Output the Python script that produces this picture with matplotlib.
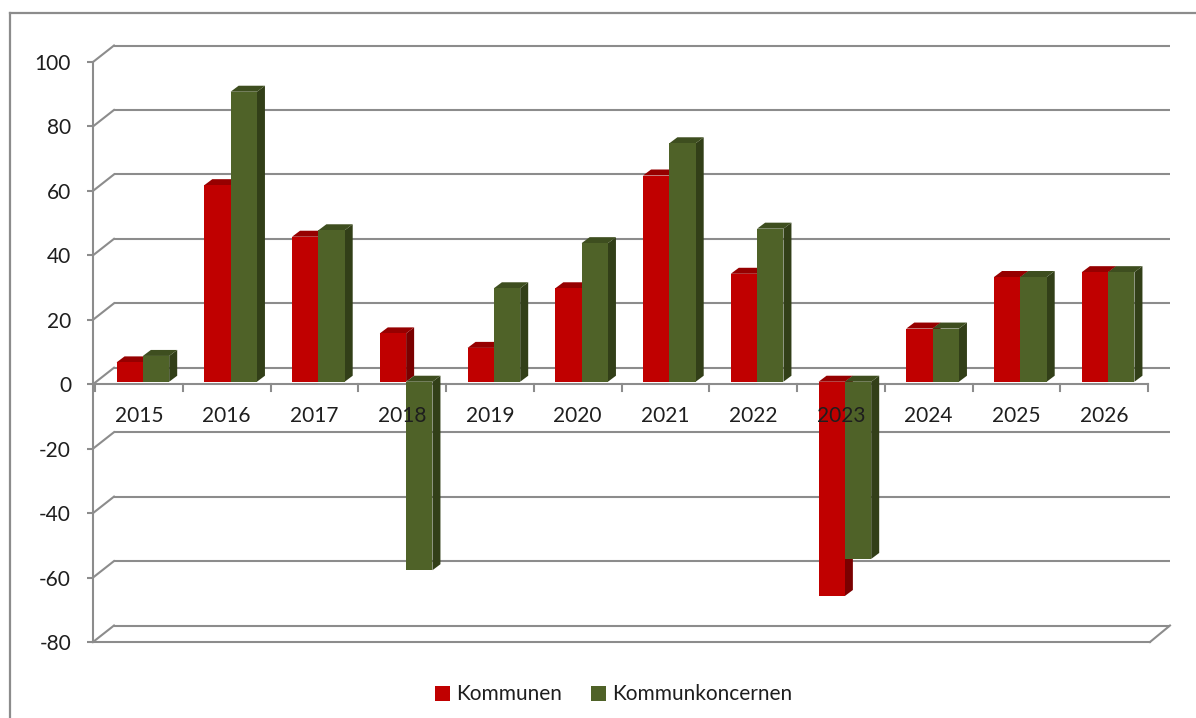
import matplotlib
matplotlib.use('Agg')
import matplotlib.pyplot as plt
from matplotlib.patches import Polygon, Patch
from matplotlib.lines import Line2D
import matplotlib.transforms as mtransforms

plt.rcParams['font.family'] = ['Lato', 'DejaVu Sans']

# ---- data ----
years = ['2015', '2016', '2017', '2018', '2019', '2020',
         '2021', '2022', '2023', '2024', '2025', '2026']
kommunen = [6, 61, 45, 15, 10.5, 29, 64, 33.5, -66.5, 16.5, 32.5, 34]
kommunkoncernen = [8, 90, 47, -58.5, 29, 43, 74, 47.5, -55, 16.5, 32.5, 34]
series_names = ['Kommunen', 'Kommunkoncernen']
yticks = [-80, -60, -40, -20, 0, 20, 40, 60, 80, 100]

# ---- style ----
W, H = 1196, 718
GRID = '#8c8c8c'
TXT = '#1e1e1e'
front_cols = ['#c00000', '#4f6228']
top_cols = ['#960000', '#3e4e1f']
side_cols = ['#7a0000', '#323f18']

fig = plt.figure(figsize=(W / 100, H / 100), dpi=100)
ax = fig.add_axes([95 / W, (H - 642) / H, (1148 - 95) / W, (642 - 62) / H])
ax.set_xlim(-0.5, 11.5)
ax.set_ylim(-80, 100)
ax.patch.set_visible(False)

n = len(years)
PX_X = n / 1053.0          # data units per pixel (x)
PX_Y = 180 / 580.0         # data units per pixel (y)

back = mtransforms.offset_copy(ax.transData, fig=fig, x=21, y=16.5, units='dots')
front_bar = mtransforms.offset_copy(ax.transData, fig=fig, x=4, y=2.5, units='dots')

# back wall gridlines
for v in yticks:
    ax.plot([-0.5 - 2 * PX_X, n - 0.5 + 1 * PX_X], [v, v], color=GRID, lw=1.5, transform=back,
            zorder=1, solid_capstyle='butt', clip_on=False)
    # side wall diagonals
    ax.plot([-0.5 - 2 * PX_X, -0.5 + 19 * PX_X], [v, v + 16.5 * PX_Y],
            color=GRID, lw=1.5, zorder=1, clip_on=False)
# floor front edge and right diagonal
ax.plot([-0.5 - 2 * PX_X, n - 0.5 + 2 * PX_X], [-80, -80], color=GRID, lw=1.5, zorder=1,
        clip_on=False)
ax.plot([n - 0.5 + 2 * PX_X, n - 0.5 + 22 * PX_X], [-80, -80 + 16.5 * PX_Y],
        color=GRID, lw=1.5, zorder=1, clip_on=False)

# category axis at 0 with boundary ticks
ax.plot([-0.5, n - 0.5], [0, 0], color=GRID, lw=1.5, zorder=2, clip_on=False)
for b in range(n + 1):
    ax.plot([b - 0.5, b - 0.5], [0, -7 * PX_Y], color=GRID, lw=1.5, zorder=2, clip_on=False)

# bars
width = 0.30
ddx, ddy = 8 * PX_X, 6 * PX_Y
z = 3
for i in range(n):
    for s, vals in enumerate([kommunen, kommunkoncernen]):
        v = vals[i]
        x0 = i - width if s == 0 else i
        x1 = x0 + width
        top = max(v, 0)
        bot = min(v, 0)
        side = Polygon([(x1, bot), (x1 + ddx, bot + ddy), (x1 + ddx, top + ddy), (x1, top)],
                       closed=True, facecolor=side_cols[s], edgecolor='none',
                       transform=front_bar, zorder=z, clip_on=False)
        ax.add_patch(side)
        topf = Polygon([(x0, top), (x1, top), (x1 + ddx, top + ddy), (x0 + ddx, top + ddy)],
                       closed=True, facecolor=top_cols[s], edgecolor='none',
                       transform=front_bar, zorder=z, clip_on=False)
        ax.add_patch(topf)
        ax.bar(x0, v, width, align='edge', color=front_cols[s], linewidth=0,
               transform=front_bar, zorder=z, clip_on=False)
        z += 0.01

ax.set_xlim(-0.5, 11.5)
ax.set_ylim(-80, 100)

# category labels
lab_tr = mtransforms.offset_copy(ax.transData, fig=fig, x=0, y=-38, units='dots')
for i, yr in enumerate(years):
    ax.text(i, 0, yr, transform=lab_tr, ha='center', va='baseline',
            fontsize=15, color=TXT, zorder=10)

# value axis
for side_name in ['top', 'right', 'bottom']:
    ax.spines[side_name].set_visible(False)
ax.spines['left'].set_position(('outward', 1.44))
ax.spines['left'].set_color(GRID)
ax.spines['left'].set_linewidth(1.5)
ax.set_xticks([])
ax.set_yticks(yticks)
ax.set_yticklabels([str(t) for t in yticks])
ax.tick_params(axis='y', direction='out', length=4.3, width=1.5, color=GRID,
               pad=11.5, labelsize=15, labelcolor=TXT)

# legend
handles = [Patch(facecolor=front_cols[0], edgecolor='none'),
           Patch(facecolor=front_cols[1], edgecolor='none')]
fig.legend(handles, series_names, loc='center', bbox_to_anchor=(613.5 / W, 1 - 694.5 / H),
           ncol=2, frameon=False, fontsize=15, handlelength=0.72, handleheight=0.72,
           handletextpad=0.3, columnspacing=1.4, labelcolor=TXT)

# outer chart frame
fig.add_artist(Line2D([10 / W, 10 / W], [0, 1 - 13 / H], transform=fig.transFigure,
                      color=GRID, lw=1.6))
fig.add_artist(Line2D([10 / W, 1], [1 - 13 / H, 1 - 13 / H], transform=fig.transFigure,
                      color=GRID, lw=1.6))

fig.savefig('out.png', dpi=100, facecolor='white')
